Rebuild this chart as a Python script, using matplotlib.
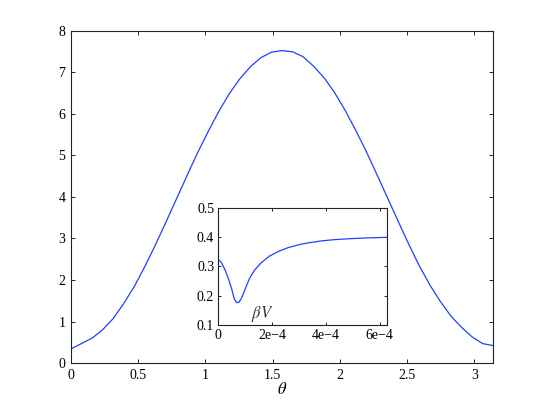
import numpy as np
import matplotlib
matplotlib.use("Agg")
import matplotlib.pyplot as plt

plt.rcParams['font.family'] = ['Liberation Serif', 'DejaVu Serif']
plt.rcParams['mathtext.fontset'] = 'stix'

# Main curve: theta from 0 to pi (41 samples)
theta = np.linspace(0, np.pi, 41)
main_vals = [0.34, 0.47, 0.60, 0.80, 1.07, 1.43, 1.84, 2.32, 2.84, 3.39,
             3.95, 4.51, 5.06, 5.57, 6.05, 6.48, 6.84, 7.13, 7.35, 7.48,
             7.52, 7.49, 7.37, 7.14, 6.86, 6.50, 6.07, 5.59, 5.08, 4.53,
             3.97, 3.41, 2.86, 2.34, 1.88, 1.48, 1.13, 0.86, 0.63, 0.47, 0.42]

# Inset curve
inset_x = [0, 0.12e-4, 0.25e-4, 0.37e-4, 0.49e-4, 0.59e-4, 0.67e-4, 0.76e-4,
           0.86e-4, 0.98e-4, 1.16e-4, 1.35e-4, 1.59e-4, 1.9e-4, 2.26e-4,
           2.6e-4, 3.0e-4, 3.4e-4, 3.85e-4, 4.3e-4, 4.83e-4, 5.5e-4, 6.28e-4]
inset_y = [0.324, 0.312, 0.288, 0.259, 0.225, 0.19, 0.177, 0.177,
           0.191, 0.219, 0.259, 0.288, 0.312, 0.335, 0.352,
           0.364, 0.374, 0.381, 0.387, 0.391, 0.394, 0.397, 0.399]

main_xticks = [0, 0.5, 1, 1.5, 2, 2.5, 3]
main_xticklabels = ['0', '0.5', '1', '1.5', '2', '2.5', '3']
main_yticks = [0, 1, 2, 3, 4, 5, 6, 7, 8]
inset_xticks = [0, 2e-4, 4e-4, 6e-4]
inset_xticklabels = ['0', '2e\u22124', '4e\u22124', '6e\u22124']
inset_yticks = [0.1, 0.2, 0.3, 0.4, 0.5]
inset_yticklabels = ['0.1', '0.2', '0.3', '0.4', '0.5']

fig = plt.figure(figsize=(5.45, 4.08), dpi=100)
ax = fig.add_axes([0.13, 0.11, 0.775, 0.815])
ax.plot(theta, main_vals, color='#2040ff', lw=0.9)
ax.set_xlim(0, np.pi)
ax.set_ylim(0, 8)
ax.set_xticks(main_xticks)
ax.set_xticklabels(main_xticklabels)
ax.set_yticks(main_yticks)
ax.tick_params(direction='in', top=True, right=True, labelsize=10, length=3, width=0.6, pad=4)
for s in ax.spines.values():
    s.set_linewidth(0.8)
    s.set_color('#222222')
ax.set_xlabel(r'$\theta$', fontsize=12, labelpad=0)

ins = fig.add_axes([0.4006, 0.2034, 0.31, 0.2875])
ins.plot(inset_x, inset_y, color='#2040ff', lw=0.9)
ins.set_xlim(0, 6.28e-4)
ins.set_ylim(0.1, 0.5)
ins.set_xticks(inset_xticks)
ins.set_xticklabels(inset_xticklabels)
ins.set_yticks(inset_yticks)
ins.set_yticklabels(inset_yticklabels)
ins.tick_params(direction='in', top=True, right=True, labelsize=10, length=2.5, width=0.6, pad=3)
for s in ins.spines.values():
    s.set_linewidth(0.8)
    s.set_color('#222222')
ins.text(1.62e-4, 0.104, r'$\beta V$', fontsize=12, ha='center', va='bottom', color='#333333')

fig.savefig('out.png', dpi=100)
